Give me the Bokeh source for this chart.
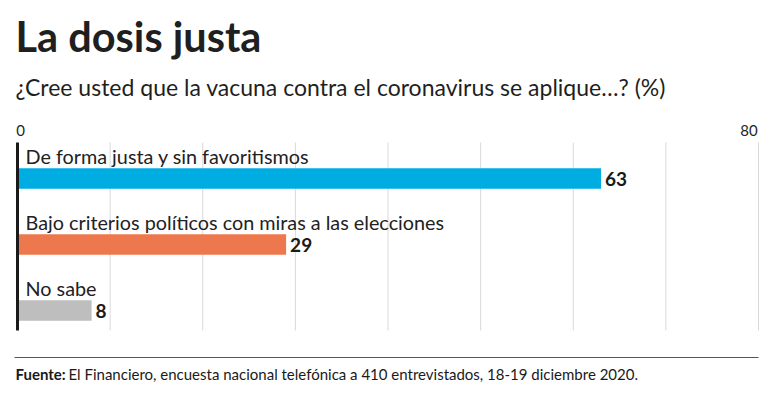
from bokeh.plotting import figure
from bokeh.models import Range1d, ColumnDataSource
from bokeh.core.properties import value
from bokeh.embed import file_html
from bokeh.resources import INLINE

# ---- data ----
categories = ["De forma justa y sin favoritismos",
              "Bajo criterios políticos con miras a las elecciones",
              "No sabe"]
values = [63, 29, 8]
colors = ["#00ADE2", "#EE784D", "#BEBEBE"]
grid_ticks = [10, 20, 30, 40, 50, 60, 70, 80]
tick_labels = ["0", "80"]
tick_values = [0, 80]

title = "La dosis justa"
subtitle = "¿Cree usted que la vacuna contra el coronavirus se aplique…? (%)"
source_bold = "Fuente:"
source_text = "El Financiero, encuesta nacional telefónica a 410 entrevistados, 18-19 diciembre 2020."

# ---- layout (pixels, image coordinates) ----
W, H = 775, 393
X0, X80 = 17, 758         # px for value 0 and 80
ROW0, ROWSTEP = 178, 66   # px of first bar centre, spacing

def px2x(px):
    return (px - X0) / (X80 - X0) * 80

def px2y(py):
    return (py - ROW0) / ROWSTEP

x_start, x_end = px2x(0), px2x(W)
y_top, y_bot = px2y(0), px2y(H)

p = figure(width=W, height=H, output_backend="svg", toolbar_location=None,
           x_range=Range1d(x_start, x_end), y_range=Range1d(y_bot, y_top),
           min_border=0)
p.outline_line_color = None
p.axis.visible = False
p.grid.visible = False
p.background_fill_color = "white"
p.border_fill_color = "white"

FONT = "Lato"
ys = list(range(len(categories)))

# grid lines
g_top, g_bot = px2y(142), px2y(330)
p.segment(x0=grid_ticks, x1=grid_ticks, y0=[g_top]*len(grid_ticks), y1=[g_bot]*len(grid_ticks),
          line_color="#d9d9d9", line_width=1)

# bars
src = ColumnDataSource(dict(y=ys, v=values, c=colors, cat=categories,
                            lab=[str(v) for v in values]))
p.hbar(y="y", right="v", left=0, height=20.5/ROWSTEP, fill_color="c", line_color=None, source=src)

# zero axis line
p.segment(x0=[0], x1=[0], y0=[g_top], y1=[g_bot], line_color="#1a1a1a", line_width=3)

# tick labels
p.text(x=tick_values, y=[px2y(130)]*2, text=tick_labels, text_font=value(FONT),
       text_font_size="15px", text_color="#262626", text_align="center", text_baseline="middle",
       x_offset=[3, -9.5])

# category labels
cat_src = ColumnDataSource(dict(x=[px2x(25)]*3, y=[y - 22.5/ROWSTEP for y in ys], t=categories))
p.text(x="x", y="y", text="t", source=cat_src, text_font=value(FONT), text_font_size="19.8px",
       text_color="#222222", text_baseline="middle")

# value labels
p.text(x="v", y="y", text="lab", source=src, x_offset=4, text_font=value(FONT),
       text_font_size="19px", text_font_style="bold", text_color="#1a1a1a",
       text_baseline="middle")

# title & subtitle
p.text(x=[px2x(15)], y=[px2y(35)], text=[title], text_font=value(FONT), text_font_size="41.5px",
       text_font_style="bold", text_color="#1f1f1f", text_baseline="middle")
p.text(x=[px2x(15)], y=[px2y(86)], text=[subtitle], text_font=value(FONT), text_font_size="23px",
       text_color="#1f1f1f", text_baseline="middle")

# footer rule & text
p.segment(x0=[px2x(14)], x1=[px2x(758)], y0=[px2y(357)], y1=[px2y(357)], line_color="#555555",
          line_width=1)
p.text(x=[px2x(15)], y=[px2y(373)], text=[source_bold], text_font=value(FONT), text_font_size="15px",
       text_font_style="bold", text_color="#1a1a1a", text_baseline="middle")
p.text(x=[px2x(68)], y=[px2y(373)], text=[source_text], text_font=value(FONT), text_font_size="15px",
       text_color="#1a1a1a", text_baseline="middle")

open("out.html", "w").write(file_html(p, INLINE))
